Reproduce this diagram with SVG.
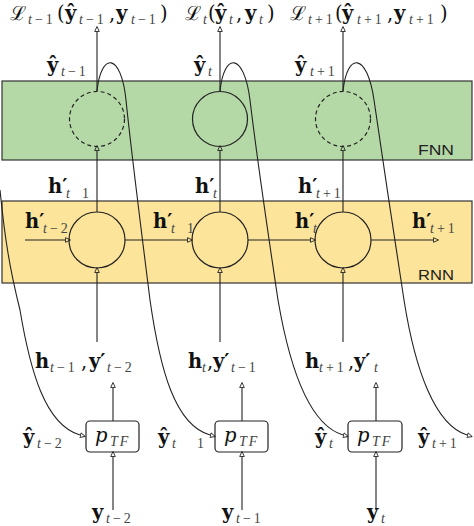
<svg xmlns="http://www.w3.org/2000/svg" width="474" height="526" viewBox="0 0 474 526">
<defs>
<style>
.m{font-family:"DejaVu Serif","Liberation Serif",serif;font-size:19.5px;fill:#111;font-weight:bold}
.n{font-weight:normal}
.s{font-family:"Liberation Serif",serif;font-size:14px;fill:#444;font-weight:normal}
.w{letter-spacing:3px}
.i{font-style:italic}
.sans{font-family:"Liberation Sans",Arial,sans-serif;font-size:15px;fill:#222}
.ln{fill:none;stroke:#222;stroke-width:1.1}
.ar{marker-end:url(#a)}
.c{fill:none;stroke:#222;stroke-width:1.2}
.d{stroke-dasharray:4 3}
</style>
<marker id="a" viewBox="0 -3 6 6" refX="0" refY="0" markerWidth="6" markerHeight="6" markerUnits="userSpaceOnUse" orient="auto">
<path d="M0.5,-2.3 L5.5,0 L0.5,2.3 Z" fill="none" stroke="#222" stroke-width="0.9"/>
</marker>
</defs>
<rect width="474" height="526" fill="#fff"/>
<g id="fnn">
<rect x="2" y="81" width="470" height="79" fill="#b5d8a7" stroke="#333" stroke-width="1.2"/>
<text class="sans" x="418" y="155" textLength="36" lengthAdjust="spacingAndGlyphs">FNN</text>
</g>
<g id="rnn">
<rect x="2" y="201" width="470" height="82" fill="#fde49b" stroke="#333" stroke-width="1.2"/>
<text class="sans" x="418" y="280" textLength="36" lengthAdjust="spacingAndGlyphs">RNN</text>
</g>
<g id="f1"><circle class="c d" cx="97" cy="119" r="27.5"/></g>
<g id="f2"><circle class="c" cx="220" cy="119" r="27.5"/></g>
<g id="f3"><circle class="c d" cx="343" cy="119" r="27.5"/></g>
<g id="r1"><circle class="c" cx="97" cy="240" r="28"/></g>
<g id="r2"><circle class="c" cx="220" cy="240" r="28"/></g>
<g id="r3"><circle class="c" cx="343" cy="240" r="28"/></g>
<g id="p1"><rect class="c" x="86" y="421" width="53" height="31" rx="4"/><text class="m n i" x="95" y="442" font-size="20">p<tspan class="s i" x="110" y="446" style="letter-spacing:2px">TF</tspan></text></g>
<g id="p2"><rect class="c" x="215" y="421" width="53" height="31" rx="4"/><text class="m n i" x="224" y="442" font-size="20">p<tspan class="s i" x="239" y="446" style="letter-spacing:2px">TF</tspan></text></g>
<g id="p3"><rect class="c" x="348" y="421" width="54" height="31" rx="4"/><text class="m n i" x="357" y="442" font-size="20">p<tspan class="s i" x="372" y="446" style="letter-spacing:2px">TF</tspan></text></g>
<g id="connectors">
<path class="ln ar" d="M97,91 V32"/>
<path class="ln ar" d="M220,91 V32"/>
<path class="ln ar" d="M343,91 V32"/>
<path class="ln ar" d="M97,212 V151"/>
<path class="ln ar" d="M220,212 V151"/>
<path class="ln ar" d="M343,212 V151"/>
<path class="ln ar" d="M97,342 V273"/>
<path class="ln ar" d="M220,342 V273"/>
<path class="ln ar" d="M343,342 V273"/>
<path class="ln ar" d="M113,421 V388"/>
<path class="ln ar" d="M242,421 V388"/>
<path class="ln ar" d="M376,421 V388"/>
<path class="ln ar" d="M113,510 V457"/>
<path class="ln ar" d="M242,510 V457"/>
<path class="ln ar" d="M376,510 V457"/>
<path class="ln ar" d="M25,240 H65"/>
<path class="ln ar" d="M125,240 H187"/>
<path class="ln ar" d="M248,240 H310"/>
<path class="ln ar" d="M371,240 H433"/>
<path class="ln ar" d="M0,190 C5,240 10,270 20,310 C30,370 45,425 80,435"/>
<path class="ln ar" d="M97,91 C101,52 121,52 126,100 C131,150 145,260 150,300 C160,370 175,425 210,435"/>
<path class="ln ar" d="M220,91 C224,52 244,52 250,100 C256,150 272,260 278,300 C290,370 310,425 343,435"/>
<path class="ln ar" d="M343,91 C347,52 367,52 374,100 C381,150 398,260 404,300 C415,370 435,425 467,435"/>
</g>
<g id="labels">
<text class="m"><tspan class="n" x="10" y="20">ℒ</tspan><tspan class="s w" x="28" y="24"><tspan class="i">t</tspan>−1</tspan><tspan class="n" x="57" y="20">(</tspan><tspan x="65" y="20">ŷ</tspan><tspan class="s w" x="79" y="24"><tspan class="i">t</tspan>−1</tspan><tspan class="n" x="109" y="20">,</tspan><tspan x="116" y="20">y</tspan><tspan class="s w" x="131" y="24"><tspan class="i">t</tspan>−1</tspan><tspan class="n" x="160" y="20">)</tspan></text>
<text class="m"><tspan class="n" x="185" y="20">ℒ</tspan><tspan class="s i" x="203" y="24">t</tspan><tspan class="n" x="208" y="20">(</tspan><tspan x="215" y="20">ŷ</tspan><tspan class="s i" x="229" y="24">t</tspan><tspan class="n" x="236" y="20">,</tspan><tspan x="245" y="20">y</tspan><tspan class="s i" x="259" y="24">t</tspan><tspan class="n" x="267" y="20">)</tspan></text>
<text class="m"><tspan class="n" x="290" y="20">ℒ</tspan><tspan class="s w" x="308" y="24"><tspan class="i">t</tspan>+1</tspan><tspan class="n" x="335" y="20">(</tspan><tspan x="342" y="20">ŷ</tspan><tspan class="s w" x="357" y="24"><tspan class="i">t</tspan>+1</tspan><tspan class="n" x="387" y="20">,</tspan><tspan x="394" y="20">y</tspan><tspan class="s w" x="409" y="24"><tspan class="i">t</tspan>+1</tspan><tspan class="n" x="440" y="20">)</tspan></text>

<text class="m"><tspan x="47" y="72">ŷ</tspan><tspan class="s w" x="61" y="76"><tspan class="i">t</tspan>−1</tspan></text>
<text class="m"><tspan x="194" y="72">ŷ</tspan><tspan class="s i" x="208" y="76">t</tspan></text>
<text class="m"><tspan x="295" y="72">ŷ</tspan><tspan class="s w" x="310" y="76"><tspan class="i">t</tspan>+1</tspan></text>

<text class="m"><tspan x="48" y="193">h′</tspan><tspan class="s i" x="66" y="198">t</tspan><tspan class="s" x="82" y="198">1</tspan></text>
<text class="m"><tspan x="195" y="193">h′</tspan><tspan class="s i" x="213" y="198">t</tspan></text>
<text class="m"><tspan x="298" y="193">h′</tspan><tspan class="s w" x="316" y="198"><tspan class="i">t</tspan>+1</tspan></text>

<text class="m"><tspan x="25" y="228">h′</tspan><tspan class="s w" x="43" y="233"><tspan class="i">t</tspan>−2</tspan></text>
<text class="m"><tspan x="153" y="228">h′</tspan><tspan class="s i" x="171" y="233">t</tspan><tspan class="s" x="187" y="233">1</tspan></text>
<text class="m"><tspan x="295" y="228">h′</tspan><tspan class="s i" x="313" y="233">t</tspan></text>
<text class="m"><tspan x="412" y="228">h′</tspan><tspan class="s w" x="430" y="233"><tspan class="i">t</tspan>+1</tspan></text>

<text class="m"><tspan x="35" y="368">h</tspan><tspan class="s w" x="50" y="372"><tspan class="i">t</tspan>−1</tspan><tspan class="n" x="81" y="368">,</tspan><tspan x="89" y="368">y′</tspan><tspan class="s w" x="107" y="372"><tspan class="i">t</tspan>−2</tspan></text>
<text class="m"><tspan x="188" y="368">h</tspan><tspan class="s i" x="202" y="372">t</tspan><tspan class="n" x="207" y="368">,</tspan><tspan x="213" y="368">y′</tspan><tspan class="s w" x="231" y="372"><tspan class="i">t</tspan>−1</tspan></text>
<text class="m"><tspan x="305" y="368">h</tspan><tspan class="s w" x="319" y="372"><tspan class="i">t</tspan>+1</tspan><tspan class="n" x="348" y="368">,</tspan><tspan x="354" y="368">y′</tspan><tspan class="s i" x="374" y="372">t</tspan></text>

<text class="m"><tspan x="23" y="444">ŷ</tspan><tspan class="s w" x="37" y="448"><tspan class="i">t</tspan>−2</tspan></text>
<text class="m"><tspan x="158" y="444">ŷ</tspan><tspan class="s i" x="172" y="448">t</tspan><tspan class="s" x="197" y="448">1</tspan></text>
<text class="m"><tspan x="315" y="444">ŷ</tspan><tspan class="s i" x="329" y="448">t</tspan></text>
<text class="m"><tspan x="418" y="444">ŷ</tspan><tspan class="s w" x="432" y="448"><tspan class="i">t</tspan>+1</tspan></text>

<text class="m"><tspan x="92" y="519">y</tspan><tspan class="s w" x="106" y="523"><tspan class="i">t</tspan>−2</tspan></text>
<text class="m"><tspan x="222" y="519">y</tspan><tspan class="s w" x="236" y="523"><tspan class="i">t</tspan>−1</tspan></text>
<text class="m"><tspan x="367" y="519">y</tspan><tspan class="s i" x="381" y="523">t</tspan></text>
</g>
</svg>
